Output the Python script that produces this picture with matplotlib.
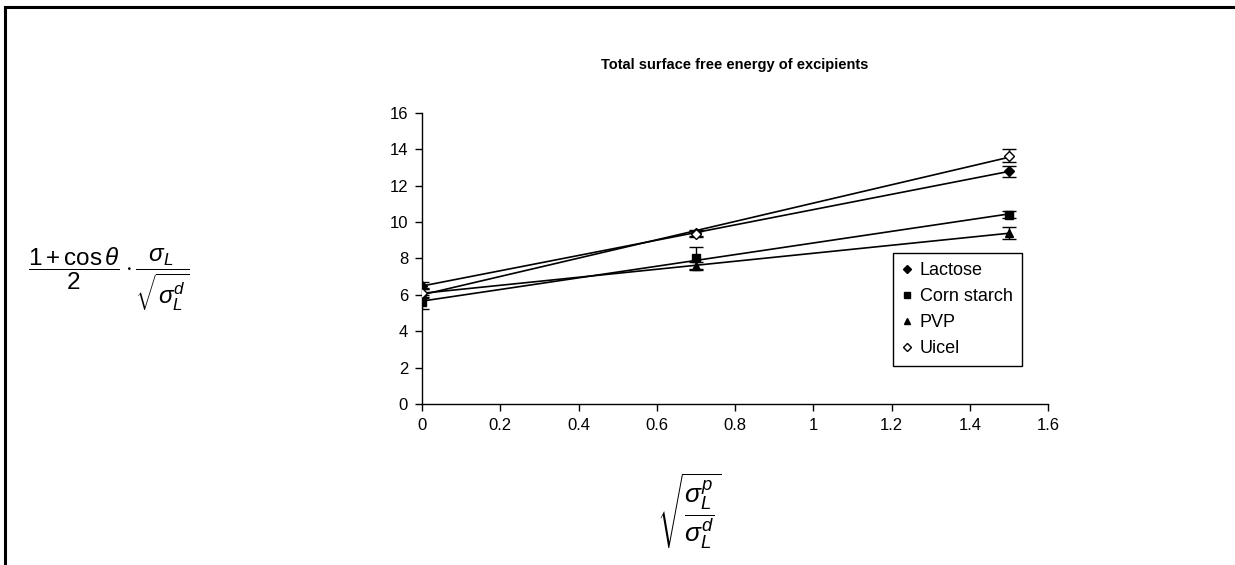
import numpy as np
import matplotlib
matplotlib.use("Agg")
import matplotlib.pyplot as plt
from matplotlib.lines import Line2D

plt.rcParams['font.family'] = ['Liberation Sans', 'DejaVu Sans']
plt.rcParams['mathtext.fontset'] = 'custom'
plt.rcParams['mathtext.rm'] = 'Liberation Sans'
plt.rcParams['mathtext.it'] = 'Liberation Sans:italic'

# data
x_vals = [0, 0.7, 1.5]
lactose = [6.5, 9.4, 12.8]
lactose_err = [0.2, 0.15, 0.3]
corn_starch = [5.6, 8.0, 10.4]
corn_starch_err = [0.4, 0.65, 0.2]
pvp = [6.1, 7.6, 9.4]
pvp_err = [0.2, 0.2, 0.35]
uicel = [6.1, 9.35, 13.65]
uicel_err = [0.3, 0.15, 0.35]

x_ticks = [0, 0.2, 0.4, 0.6, 0.8, 1, 1.2, 1.4, 1.6]
y_ticks = [0, 2, 4, 6, 8, 10, 12, 14, 16]

serier = [
    ("Lactose", lactose, lactose_err, 'D', 'black', 5),
    ("Corn starch", corn_starch, corn_starch_err, 's', 'black', 5.5),
    ("PVP", pvp, pvp_err, '^', 'black', 6),
    ("Uicel", uicel, uicel_err, 'D', 'white', 5),
]

fig = plt.figure(figsize=(12.35, 5.65), dpi=100)
ax = fig.add_axes([0.3417, 0.285, 0.5069, 0.515])

x = np.array(x_vals)
linje_x = np.array([0, 1.5])
for navn, y, feil, mk, fc, ms in serier:
    # trendlinje (lineaer tilpasning)
    k, m = np.polyfit(x, y, 1)
    ax.plot(linje_x, k * linje_x + m, color='black', linewidth=1.2, zorder=2)
    ax.errorbar(x, y, yerr=feil, fmt=mk, color='black', mfc=fc, mec='black',
                ms=ms, ecolor='black', elinewidth=1, capsize=5, capthick=1,
                label=navn, zorder=3)

ax.set_xlim(0, 1.6)
ax.set_ylim(0, 16)
ax.set_xticks(x_ticks)
ax.set_xticklabels([str(t) for t in x_ticks])
ax.set_yticks(y_ticks)
ax.tick_params(labelsize=12, direction='out', length=5, width=1, pad=5)
ax.spines['top'].set_visible(False)
ax.spines['right'].set_visible(False)
ax.spines['left'].set_linewidth(1)
ax.spines['bottom'].set_linewidth(1)

ax.set_title("Total surface free energy of excipients", fontsize=10.5,
             fontweight='bold', pad=32)

handles = [Line2D([], [], linestyle='none', marker=mk, color='black', mfc=fc,
                  mec='black', ms=ms - 1) for _, _, _, mk, fc, ms in serier]
leg = ax.legend(handles, [s[0] for s in serier], loc='upper left',
                bbox_to_anchor=(0.752, 0.518), fontsize=13, frameon=True,
                fancybox=False, edgecolor='black', framealpha=1,
                handlelength=0.6, handletextpad=0.4, borderpad=0.5,
                labelspacing=0.5, borderaxespad=0)
leg.get_frame().set_linewidth(1)

fig.text(0.088, 0.505,
         r'$\dfrac{1+\cos\theta}{2}\cdot\dfrac{\sigma_L}{\sqrt{\sigma_L^d}}$',
         fontsize=17.5, ha='center', va='center')
fig.text(0.558, 0.095, r'$\sqrt{\dfrac{\sigma_L^p}{\sigma_L^d}}$',
         fontsize=19, ha='center', va='center')

# ramme oppe og til venstre
fig.add_artist(Line2D([0.004, 1.0], [0.988, 0.988], color='black', linewidth=2.2,
                      transform=fig.transFigure))
fig.add_artist(Line2D([0.004, 0.004], [0.0, 0.988], color='black', linewidth=2.2,
                      transform=fig.transFigure))

fig.savefig("out.png", dpi=100)
